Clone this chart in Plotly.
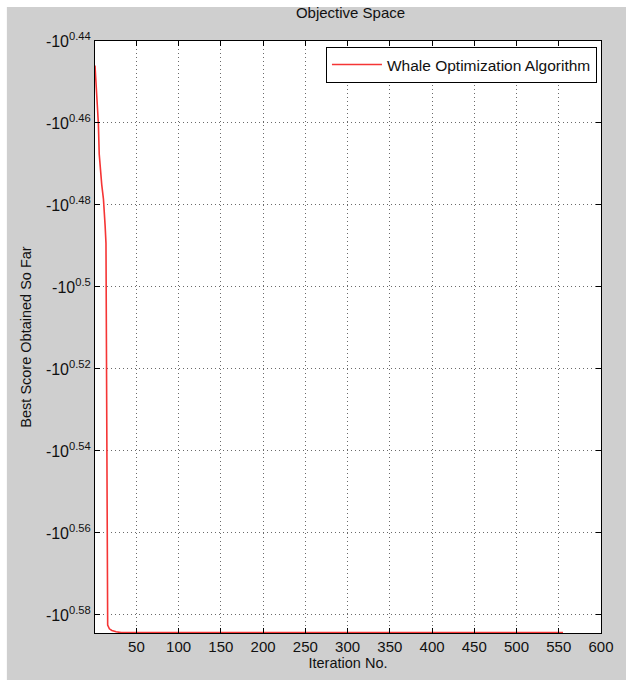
import plotly.graph_objects as go

# Convergence curve (iteration, best score so far)
iterations = [1, 2, 3, 5, 6, 7, 9, 11, 12, 13, 14, 15, 16, 18, 21, 26, 32, 555]
best_score = [-2.7925, -2.8138, -2.8500, -2.8853, -2.9349, -2.9550, -2.9860,
              -3.0100, -3.0269, -3.0560, -3.0853, -3.4914, -3.8237, -3.8316,
              -3.8351, -3.8380, -3.8398, -3.8398]

y_exponents = [0.44, 0.46, 0.48, 0.5, 0.52, 0.54, 0.56, 0.58]
y_tick_text = ["-10<sup>%s</sup>" % ("%g" % e) for e in y_exponents]
x_ticks = [50, 100, 150, 200, 250, 300, 350, 400, 450, 500, 550, 600]

magnitude = [-s for s in best_score]

fig = go.Figure()
fig.add_trace(go.Scatter(
    x=iterations, y=magnitude, mode="lines",
    line=dict(color="#f53535", width=1.6),
    name="Whale Optimization Algorithm",
))

FONT = "Liberation Sans, Arial, sans-serif"
GRAY = "#cfcfcf"
GRID = dict(showgrid=True, gridcolor="#6a6a6a", griddash="1px,3px", gridwidth=1)

L, R, T, B = 95, 20, 41, 47
PW, PH = 626 - L - R, 680 - T - B

fig.update_layout(
    width=626, height=680,
    margin=dict(l=L, r=R, t=T, b=B),
    paper_bgcolor=GRAY, plot_bgcolor="white",
    font=dict(family=FONT, size=14, color="#111"),
    title=dict(text="Objective Space", x=(L + PW / 2) / 626, xanchor="center",
               y=1 - 13 / 680, yanchor="middle", font=dict(size=15)),
    showlegend=True,
    legend=dict(x=0.992, xanchor="right", y=0.99, yanchor="top",
                bgcolor="white", bordercolor="black", borderwidth=1,
                font=dict(size=15.5), itemwidth=50),
    shapes=[
        dict(type="rect", xref="paper", yref="paper", x0=-0.3, x1=1.2,
             y0=1 + (T - 7) / PH, y1=1.2, fillcolor="white", line_width=0),
        dict(type="rect", xref="paper", yref="paper", x0=-0.3, x1=-(L - 6) / PW,
             y0=-0.2, y1=1.2, fillcolor="white", line_width=0),
    ],
)

fig.update_xaxes(
    range=[1, 600], tickvals=x_ticks, ticks="inside", ticklen=5,
    tickcolor="black", showline=True, linecolor="black", linewidth=1,
    mirror="ticks", zeroline=False, tickfont=dict(size=15),
    title=dict(text="Iteration No.", font=dict(size=14.5), standoff=3),
    **GRID,
)
fig.update_yaxes(
    type="log", range=[0.5844, 0.44],
    tickvals=[10 ** e for e in y_exponents], ticktext=y_tick_text,
    ticks="inside", ticklen=5, tickcolor="black", showline=True,
    linecolor="black", linewidth=1, mirror="ticks", zeroline=False,
    tickfont=dict(size=16),
    title=dict(text="Best Score Obtained So Far", font=dict(size=14.5), standoff=10),
    **GRID,
)

fig.write_html("out.html", config={"displayModeBar": False},
               post_script="document.body.style.margin='0';")
